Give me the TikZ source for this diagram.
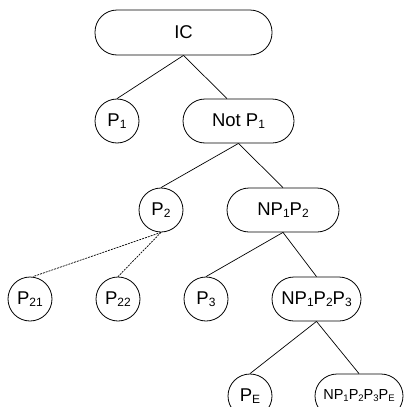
\documentclass[tikz,border=0pt]{standalone}
\usepackage{fontspec}
\setmainfont{Liberation Sans}
\newcommand\lowr[1]{\raisebox{-2.5pt}{\fontsize{12}{13}\selectfont #1}}
\newcommand\lowrs[1]{\raisebox{-2pt}{\fontsize{9.5}{10}\selectfont #1}}
\tikzset{
  pill/.style={draw, line width=0.8pt, rectangle, rounded corners=22pt, minimum height=44pt, inner sep=0pt, font=\fontsize{18.5}{20}\selectfont},
  circ/.style={draw, line width=0.8pt, circle, minimum size=44pt, inner sep=0pt, font=\fontsize{18.5}{20}\selectfont},
  edge/.style={line width=0.7pt},
  dedge/.style={line width=0.7pt, dash pattern=on 2pt off 1pt}
}
\begin{document}
\begin{tikzpicture}[x=1pt,y=-1pt]
\useasboundingbox (0,0) rectangle (404,407);
\clip (0,0) rectangle (404,407);
\node[pill, minimum width=177pt, minimum height=45pt] (ic) at (183.5,32.5) {IC};
\node[circ] (p1) at (117,121) {P\lowr{1}};
\node[pill, minimum width=111pt] (notp) at (238.5,121) {Not P\lowr{1}};
\node[circ] (p2) at (161,210) {P\lowr{2}};
\node[pill, minimum width=112pt] (np12) at (283,210) {NP\lowr{1}P\lowr{2}};
\node[circ] (p21) at (30,299) {P\lowr{21}};
\node[circ] (p22) at (118,299) {P\lowr{22}};
\node[circ] (p3) at (206,299) {P\lowr{3}};
\node[pill, minimum width=89pt] (np123) at (316.5,299) {NP\lowr{1}P\lowr{2}P\lowr{3}};
\node[circ] (pe) at (250,396) {P\lowr{E}};
\node[pill, minimum width=88pt, font=\fontsize{14.5}{16}\selectfont] (np123e) at (359,396) {NP\lowrs{1}P\lowrs{2}P\lowrs{3}P\lowrs{E}};
\draw[edge] (ic.south) -- (p1.north);
\draw[edge] (ic.south) -- ([xshift=-11.5pt]notp.north);
\draw[edge] (notp.south) -- (p2.north);
\draw[edge] (notp.south) -- (np12.north);
\draw[dedge] (p2.south) -- ([xshift=3pt]p21.north);
\draw[dedge] (p2.south) -- (p22.north);
\draw[edge] (np12.south) -- (p3.north);
\draw[edge] (np12.south) -- (np123.north);
\draw[edge] (np123.south) -- (pe.north);
\draw[edge] (np123.south) -- (np123e.north);
\end{tikzpicture}
\end{document}
